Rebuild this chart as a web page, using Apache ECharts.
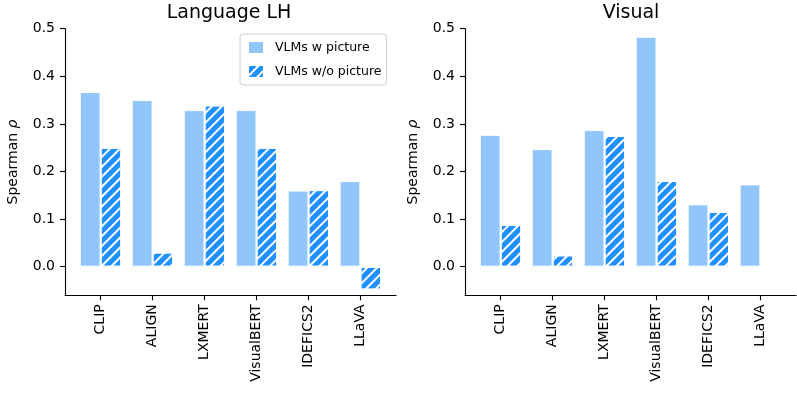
<!DOCTYPE html>
<html>
<head>
<meta charset="utf-8">
<script src="https://cdn.jsdelivr.net/npm/echarts@6/dist/echarts.min.js"></script>
<style>
  html, body { margin: 0; padding: 0; background: #fff; }
  #chart { width: 797px; height: 399px; }
</style>
</head>
<body>
<div id="chart"></div>
<script>
// models on the x axis
const models = ['CLIP', 'ALIGN', 'LXMERT', 'VisualBERT', 'IDEFICS2', 'LLaVA']
const yTicks = [0, 0.1, 0.2, 0.3, 0.4, 0.5]
const xTicks = [0, 1, 2, 3, 4, 5]

// Language LH panel
const langWithPic = [0.367, 0.350, 0.329, 0.329, 0.160, 0.180]
const langNoPic = [0.250, 0.030, 0.339, 0.250, 0.161, -0.048]
// Visual panel
const visWithPic = [0.277, 0.247, 0.287, 0.483, 0.131, 0.173]
const visNoPic = [0.088, 0.024, 0.275, 0.180, 0.115, null]

const FONT = 'DejaVu Sans'
const lightBlue = '#90c6fc'
const darkBlue = '#1e90ff'

const hatch = {
  symbol: 'rect',
  symbolSize: 1,
  color: '#ffffff',
  dashArrayX: [1, 0],
  dashArrayY: [1.4, 4.6],
  rotation: -Math.PI / 4
}

function toPairs(arr) {
  return arr.map((v, i) => [i, v])
}

function xAxisFor(gridIndex) {
  return {
    type: 'value',
    gridIndex: gridIndex,
    min: -0.685,
    max: 5.685,
    splitLine: { show: false },
    axisLine: { show: true, onZero: false, lineStyle: { color: '#000', width: 1.1 } },
    axisTick: { show: true, length: 5, customValues: xTicks, lineStyle: { color: '#000', width: 1.1 } },
    axisLabel: {
      customValues: xTicks,
      rotate: 90,
      margin: 9,
      color: '#000',
      fontFamily: FONT,
      fontSize: 14,
      formatter: v => models[Math.round(v)]
    }
  }
}

function yAxisFor(gridIndex) {
  return {
    type: 'value',
    gridIndex: gridIndex,
    min: -0.06,
    max: 0.5,
    name: 'Spearman {i|ρ}',
    nameLocation: 'middle',
    nameGap: 45,
    nameTextStyle: {
      color: '#000',
      fontFamily: FONT,
      fontSize: 14,
      rich: { i: { fontStyle: 'italic', fontFamily: FONT, fontSize: 14, color: '#000' } }
    },
    splitLine: { show: false },
    axisLine: { show: true, onZero: false, lineStyle: { color: '#000', width: 1.1 } },
    axisTick: { show: true, length: 5, customValues: yTicks, lineStyle: { color: '#000', width: 1.1 } },
    axisLabel: {
      customValues: yTicks,
      margin: 10,
      color: '#000',
      fontFamily: FONT,
      fontSize: 14,
      formatter: v => v.toFixed(1)
    }
  }
}

function barSeries(name, data, idx, hatched) {
  return {
    name: name,
    type: 'bar',
    xAxisIndex: idx,
    yAxisIndex: idx,
    data: toPairs(data),
    barWidth: 20.8,
    barGap: '0%',
    itemStyle: {
      color: hatched ? darkBlue : lightBlue,
      borderColor: '#ffffff',
      borderWidth: 1,
      decal: hatched ? hatch : null
    },
    emphasis: { disabled: true }
  }
}

const chart = echarts.init(document.getElementById('chart'))
chart.setOption({
  animation: false,
  textStyle: { fontFamily: FONT },
  title: [
    { text: 'Language LH', left: 229, top: 4, padding: 0, textAlign: 'center',
      textStyle: { fontFamily: FONT, fontSize: 19, fontWeight: 'normal', color: '#000' } },
    { text: 'Visual', left: 631, top: 4, padding: 0, textAlign: 'center',
      textStyle: { fontFamily: FONT, fontSize: 19, fontWeight: 'normal', color: '#000' } }
  ],
  legend: {
    data: ['VLMs w picture', 'VLMs w/o picture'],
    orient: 'vertical',
    left: 240,
    top: 34,
    icon: 'rect',
    itemWidth: 16,
    itemHeight: 13,
    itemGap: 9,
    padding: [6, 5, 6, 7],
    backgroundColor: '#fff',
    borderColor: '#d0d0d0',
    borderWidth: 1,
    borderRadius: 3,
    textStyle: { fontFamily: FONT, fontSize: 12.5, color: '#000', padding: [0, 0, 0, 6] }
  },
  grid: [
    { left: 65, top: 28.7, width: 331, bottom: 103.7 },
    { left: 465, top: 28.7, width: 331, bottom: 103.7 }
  ],
  xAxis: [xAxisFor(0), xAxisFor(1)],
  yAxis: [yAxisFor(0), yAxisFor(1)],
  series: [
    barSeries('VLMs w picture', langWithPic, 0, false),
    barSeries('VLMs w/o picture', langNoPic, 0, true),
    barSeries('VLMs w picture', visWithPic, 1, false),
    barSeries('VLMs w/o picture', visNoPic, 1, true)
  ]
})
</script>
</body>
</html>
